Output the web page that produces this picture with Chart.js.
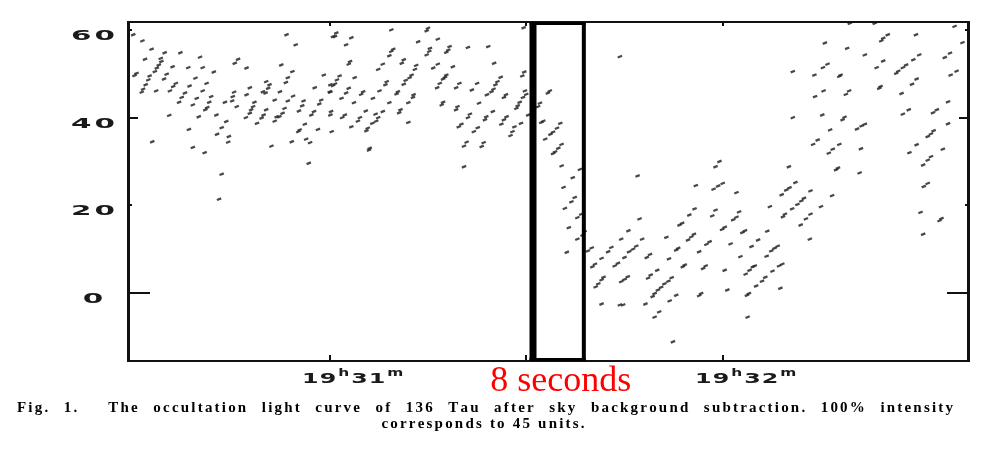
<!DOCTYPE html>
<html>
<head>
<meta charset="utf-8">
<script src="https://cdn.jsdelivr.net/npm/chart.js@4.4.1/dist/chart.umd.min.js"></script>
<style>
  html, body { margin: 0; padding: 0; background: #fff; }
</style>
</head>
<body>
<canvas id="lc" width="999" height="460"></canvas>
<script>
// time in seconds after 19h30m00s, counts after sky background subtraction
// A: before 19h31m
const timeA = [30.0,31.4,32.8,34.2,34.3,33.9,33.6,33.3,31.8,30.5,30.2,32.5,32.3,31.9,31.5,31.3,34.8,37.2,35.1,34.7,36.0,33.5,35.6,36.5,36.1,38.4,37.9,37.4,37.0,38.6,39.5,40.2,40.6,41.2,39.7,39.1,40.6,41.9,41.6,41.3,42.3,41.0,40.0,42.7,35.5,38.5,32.9,39.1,40.9,42.8,43.5,44.2,44.6,44.5,43.5,44.0,45.4,45.2,45.1,45.8,46.0,45.5,47.3,47.8,47.3,48.5,48.3,48.0,47.8,47.2,48.9,50.3,50.8,50.6,50.2,49.8,50.3,49.9,49.6,51.6,51.9,51.6,52.6,53.4,54.8,54.3,53.6,53.3,54.4,53.6,52.4,53.1,52.8,52.3,51.1,54.2,55.4,55.2,56.2,56.4,57.0,56.8,55.8,56.0,55.3,57.2,57.6,57.7,58.4,58.7,58.2,59.1,60.1,60.1,60.1,60.3,60.5,43.1];
const countA = [58.9,57.5,55.6,53.5,52.8,52.0,51.3,50.5,53.3,50.1,49.6,49.5,48.6,47.5,46.5,45.8,54.8,54.8,49.9,48.8,51.6,46.1,46.1,47.8,47.1,51.4,45.6,44.6,43.5,47.2,49.0,53.8,51.4,47.8,44.4,42.9,46.1,44.8,43.5,42.3,50.4,41.8,40.2,40.6,40.5,37.3,34.5,33.2,32.0,36.2,37.7,39.1,35.7,34.4,27.1,43.5,45.8,44.8,43.8,42.5,53.3,52.4,51.3,46.8,45.2,43.5,42.5,41.8,41.0,40.0,38.7,48.2,47.5,46.7,45.6,45.9,41.8,40.6,39.9,44.0,40.2,39.2,52.0,58.9,56.6,50.5,49.1,48.0,44.9,43.8,45.9,42.1,41.0,40.2,33.5,34.5,37.2,36.8,38.5,35.1,34.3,29.6,42.7,43.8,41.5,40.6,41.4,46.8,43.1,44.0,37.3,49.7,47.5,45.8,40.6,36.8,58.5,21.4];

// B: 19h31m up to the start of the occultation
const timeB = [61.0,60.8,63.3,62.5,69.4,75.0,74.8,73.5,76.5,69.7,69.4,69.1,75.3,75.2,74.8,78.3,78.1,77.8,81.1,84.2,63.1,62.9,68.1,71.3,71.0,73.2,73.0,75.8,76.5,78.8,85.1,61.5,61.1,60.8,60.5,63.8,67.4,72.5,72.2,68.7,68.5,71.6,71.3,77.8,77.6,77.3,76.8,76.4,79.8,79.3,82.5,81.7,86.1,85.6,85.3,85.0,84.7,84.0,89.4,89.7,89.8,90.0,89.5,62.9,62.5,65.1,64.8,61.8,60.0,67.6,70.4,70.2,72.8,72.7,66.6,63.7,69.1,72.0,77.3,77.1,79.5,79.3,82.8,86.9,86.6,89.0,88.7,88.5,84.9,60.2,62.3,61.9,65.5,64.6,64.3,67.0,67.4,67.1,68.1,70.8,70.6,72.0,66.5,63.3,65.8,65.6,81.4,81.1,83.9,83.7,87.0,86.6,86.2,80.1,79.7,82.6,82.0,88.2,87.9,87.6,89.2,80.9,80.5,83.5,83.2,66.1,66.0,80.5,90.3,89.6];
const countB = [59.3,58.5,58.2,56.6,60.0,60.4,59.8,57.3,57.9,55.6,55.1,54.1,55.8,55.1,54.3,56.2,55.4,54.9,56.0,56.2,52.8,52.2,52.2,53.2,52.4,51.9,51.0,51.3,52.2,51.6,52.4,49.5,48.6,47.7,47.3,49.1,51.0,49.7,49.1,48.2,47.5,48.5,47.6,49.7,49.2,48.8,47.8,46.8,47.8,46.8,47.8,46.3,49.2,48.2,47.5,46.5,45.9,45.2,49.5,50.4,46.1,45.3,44.6,46.7,45.6,45.9,45.3,44.4,45.9,46.1,45.9,45.4,45.2,44.6,44.4,43.4,43.4,43.4,43.5,42.9,42.5,41.8,43.3,45.2,44.6,43.5,42.7,42.1,41.4,41.4,40.6,40.0,41.5,40.0,39.2,40.8,40.0,39.2,41.4,41.8,41.1,38.9,38.7,37.9,37.6,37.0,40.8,40.0,40.2,39.5,40.2,39.5,38.5,38.5,37.9,37.7,36.8,37.9,36.8,35.9,38.7,34.4,33.5,34.3,33.4,33.0,32.6,28.8,40.6,60.5];

// C: the 8 second window of the disappearance
const timeC = [91.0,92.1,91.8,92.6,93.6,93.3,92.3,95.2,94.7,94.1,93.7,92.9,95.4,94.9,94.4,94.1,95.4,98.2,97.1,95.7,97.4,96.9,95.9,98.4,97.8,96.5,98.9,98.6,97.8,96.2];
const countC = [47.1,43.3,42.5,39.2,46.1,45.6,38.9,38.7,37.6,36.7,36.2,35.1,33.9,33.0,32.2,31.8,29.0,28.2,26.3,24.1,21.8,20.8,19.3,18.0,17.2,14.9,14.0,13.2,12.3,9.3];

// D: after the occultation up to 19h32m
const timeD = [104.3,107.0,119.5,118.9,115.9,120.0,119.3,118.6,122.1,100.0,99.4,100.5,100.1,101.5,103.0,102.5,104.0,103.5,101.8,101.5,101.0,100.6,101.5,104.3,104.8,104.5,105.5,105.0,105.0,104.5,105.6,106.8,106.3,105.7,107.3,107.7,108.9,108.4,110.0,109.0,108.6,112.2,111.7,111.1,110.6,110.1,109.6,109.3,111.9,112.9,108.2,110.3,109.6,112.4,111.4,111.8,113.2,112.9,114.2,113.9,115.6,115.2,114.7,113.8,113.4,114.9,115.7,116.4,118.0,117.5,117.4,117.0,116.7,116.4,118.4,118.9,120.3,119.9,122.1,121.6,122.5,121.2,120.3,120.7,123.4,123.0,122.7,123.5,124.4,124.6,124.1,124.0,123.7,123.8];
const countD = [53.9,26.7,30.0,28.8,24.5,25.0,24.4,23.7,22.9,10.3,9.6,6.6,6.0,7.9,10.4,9.4,6.8,6.2,3.6,3.0,2.1,1.4,-2.5,-2.7,-2.7,2.6,3.7,3.1,8.1,12.3,14.2,10.7,10.0,9.4,16.9,12.3,8.8,8.1,5.2,4.1,3.4,3.5,2.7,2.1,1.3,0.7,-0.1,-0.8,-1.8,-0.5,-2.5,-4.3,-5.5,-11.1,12.7,7.8,10.2,9.8,6.4,6.0,13.4,12.8,12.1,15.9,15.5,17.8,19.2,9.4,11.7,11.1,6.2,5.6,-0.1,-0.6,17.6,18.9,15.0,14.5,17.3,16.7,18.5,11.2,5.2,0.7,14.2,13.8,8.3,4.3,10.6,6.0,5.2,-0.1,-0.5,-5.5];

// E: after 19h32m, recovery
const timeE = [130.2,129.7,129.0,133.4,136.7,132.4,132.0,131.4,130.6,127.2,135.0,129.5,129.2,133.4,132.7,131.9,126.8,133.3,125.4,128.4,127.9,127.4,126.7,129.1,128.6,124.9,127.6,126.5,126.0,125.1,128.8,150.2,150.6,153.4,153.1,139.4,143.2,155.4,145.2,144.5,144.2,149.5,156.6,135.6,139.0,141.7,150.0,149.1,154.7,153.9,144.5,148.0,147.5,146.8,146.5,143.5,136.0,135.3,130.7,134.0,138.0,137.8,155.7,154.8,149.6,148.9,144.1,143.9,139.3,138.8,135.4,134.1,147.3,154.4,148.4,147.5,152.7,152.1,130.7,135.2,138.6,138.3,141.7,141.2,140.5,154.4,136.4,152.2,151.8,151.3,134.5,133.8,137.8,136.8,136.2,141.1,149.6,148.5,153.6,151.8,151.3,150.6,130.1,137.6,137.3,140.9,131.1,151.3,150.7];
const countE = [24.0,23.5,22.4,23.3,22.2,21.6,21.0,20.2,19.2,19.7,19.7,18.0,17.4,18.0,16.9,15.5,14.1,12.3,12.1,10.7,10.2,9.6,8.4,6.6,6.2,6.2,5.0,3.6,2.7,1.6,1.1,18.4,13.4,17.0,16.5,61.5,61.5,60.8,58.9,58.1,57.5,58.9,57.1,57.0,55.8,54.3,54.3,53.2,54.7,53.7,52.9,52.0,51.4,50.6,50.1,51.4,52.2,51.4,50.5,49.7,49.7,49.4,50.6,49.7,48.8,47.6,47.1,46.7,46.1,45.3,46.1,44.8,45.5,43.6,41.8,40.8,41.8,41.1,40.0,40.6,40.1,39.5,38.5,38.1,37.4,38.6,37.2,37.0,36.3,35.7,34.9,33.9,33.9,32.8,31.9,32.9,33.8,32.0,32.8,31.1,30.3,29.2,28.8,28.5,28.1,27.4,25.2,25.0,24.3];

const xTicks = [60, 90, 120];
const yTicks = [0, 20, 40, 60];
const windowStart = 90.5, windowEnd = 99.1;
const windowLabel = '8 seconds';
const caption1 = 'Fig. 1.  The occultation light curve of 136 Tau after sky background subtraction. 100% intensity';
const caption2 = 'corresponds to 45 units.';

function pairs(t, c) {
    return t.map((v, i) => ({x: v, y: c[i]}));
}
const allPoints = [].concat(pairs(timeA, countA), pairs(timeB, countB), pairs(timeC, countC), pairs(timeD, countD), pairs(timeE, countE));

// stretched text, drawn char by char (the scan uses a very wide lettering)
function wideWidth(ctx, s, sx, gap) {
    var w = 0;
    for (const ch of s) w += ctx.measureText(ch).width * sx + gap;
    return w - gap;
}
function wideText(ctx, s, x, y, sx, gap) {
    for (const ch of s) {
        ctx.save();
        ctx.translate(x, y);
        ctx.scale(sx, 1);
        ctx.fillText(ch, 0, 0);
        ctx.restore();
        x += ctx.measureText(ch).width * sx + gap;
    }
    return x;
}
function spacedWidth(ctx, s, ls) {
    var w = 0;
    for (const ch of s) w += ctx.measureText(ch).width + ls;
    return s.length ? w - ls : 0;
}
function spacedText(ctx, s, x, y, ls) {
    for (const ch of s) {
        ctx.fillText(ch, x, y);
        x += ctx.measureText(ch).width + ls;
    }
}

const decorations = {
    id: 'decorations',
    afterDraw: function (chart) {
        const ctx = chart.ctx;
        const a = chart.chartArea;
        const xs = chart.scales.x, ys = chart.scales.y;
        ctx.save();
        ctx.fillStyle = '#111';

        // frame
        ctx.fillRect(a.left - 1, a.top - 1, 3, a.bottom - a.top + 2);
        ctx.fillRect(a.right - 2, a.top - 1, 3, a.bottom - a.top + 2);
        ctx.fillRect(a.left, a.top - 1, a.right - a.left, 2);
        ctx.fillRect(a.left, a.bottom - 1, a.right - a.left, 2);

        // inward ticks on both vertical sides
        ys.ticks.forEach(function (t) {
            const py = Math.round(ys.getPixelForValue(t.value));
            const len = t.value === 0 ? 22 : (t.value === 40 ? 10 : 4);
            ctx.fillRect(a.left, py - 1, len, 2);
            ctx.fillRect(a.right - len, py - 1, len, 2);
        });
        xs.ticks.forEach(function (t) {
            const px = Math.round(xs.getPixelForValue(t.value));
            ctx.fillRect(px - 1, a.bottom - 6, 2, 6);
            ctx.fillRect(px - 1, a.top, 2, 4);
        });

        // the 8 second window
        const xl = xs.getPixelForValue(windowStart);
        const xr = xs.getPixelForValue(windowEnd);
        ctx.fillStyle = '#000';
        ctx.fillRect(xl, a.top, 7, a.bottom - a.top);
        ctx.fillRect(xr - 4, a.top, 4, a.bottom - a.top);
        ctx.fillRect(xl, a.top, xr - xl, 3);
        ctx.fillRect(xl, a.bottom - 3, xr - xl, 3);

        // y labels
        ctx.fillStyle = '#1a1a1a';
        ctx.textBaseline = 'alphabetic';
        ctx.textAlign = 'left';
        ctx.font = 'bold 14px "DejaVu Sans"';
        ys.ticks.forEach(function (t) {
            const s = String(t.value);
            const w = wideWidth(ctx, s, 2.1, 3);
            wideText(ctx, s, 93 - w / 2, ys.getPixelForValue(t.value) + 10, 2.1, 3);
        });

        // x labels, 19h31m style with raised h and m
        xs.ticks.forEach(function (t) {
            if (t.value % 60 !== 0) return;
            const parts = [['19', false], ['h', true], [String(30 + t.value / 60), false], ['m', true]];
            var total = 0;
            parts.forEach(function (p) {
                ctx.font = p[1] ? 'bold 11px "DejaVu Sans"' : 'bold 14px "DejaVu Sans"';
                total += wideWidth(ctx, p[0], p[1] ? 1.4 : 1.7, 1) + 1;
            });
            var x = xs.getPixelForValue(t.value) + 22 - total / 2;
            parts.forEach(function (p) {
                ctx.font = p[1] ? 'bold 11px "DejaVu Sans"' : 'bold 14px "DejaVu Sans"';
                x = wideText(ctx, p[0], x, p[1] ? 376 : 383, p[1] ? 1.4 : 1.7, 1) + 1;
            });
        });

        // red window label
        ctx.fillStyle = '#ff0000';
        ctx.font = '36px "Liberation Serif"';
        ctx.textAlign = 'center';
        ctx.fillText(windowLabel, (xl + xr) / 2 + 3, 391);

        // caption, first line justified
        ctx.fillStyle = '#000';
        ctx.textAlign = 'left';
        ctx.font = 'bold 15px "Liberation Serif"';
        const words = caption1.split(' ');
        const ww = words.map(w => spacedWidth(ctx, w, 2.2));
        const sum = ww.reduce((p, q) => p + q, 0);
        const gap = (953 - 17 - sum) / (words.length - 1);
        var cx = 17;
        words.forEach(function (w, i) {
            spacedText(ctx, w, cx, 412, 2.2);
            cx += ww[i] + gap;
        });
        const w2 = spacedWidth(ctx, caption2, 2.2);
        spacedText(ctx, caption2, 483 - w2 / 2, 428, 2.2);
        ctx.restore();
    }
};

const config = {
    type: 'scatter',
    data: {
        datasets: [{
            data: allPoints,
            showLine: false,
            pointStyle: 'line',
            pointRotation: -22,
            pointRadius: 2.3,
            pointBorderWidth: 2.3,
            borderColor: 'rgba(40,40,40,0.85)',
            backgroundColor: 'rgba(40,40,40,0.85)'
        }]
    },
    options: {
        responsive: false,
        animation: false,
        layout: { padding: { top: 22, right: 30, left: 0, bottom: 0 } },
        plugins: {
            legend: { display: false },
            tooltip: { enabled: false }
        },
        scales: {
            x: {
                type: 'linear',
                min: 29.2,
                max: 157.6,
                afterBuildTicks: function (s) { s.ticks = xTicks.map(v => ({value: v})); },
                afterFit: function (s) { s.height = 99; },
                grid: { display: false },
                border: { display: false },
                ticks: { display: false }
            },
            y: {
                min: -15.5,
                max: 61.8,
                afterBuildTicks: function (s) { s.ticks = yTicks.map(v => ({value: v})); },
                afterFit: function (s) { s.width = 128; },
                grid: { display: false },
                border: { display: false },
                ticks: { display: false }
            }
        }
    },
    plugins: [decorations]
};

new Chart(document.getElementById('lc'), config);
</script>
</body>
</html>
